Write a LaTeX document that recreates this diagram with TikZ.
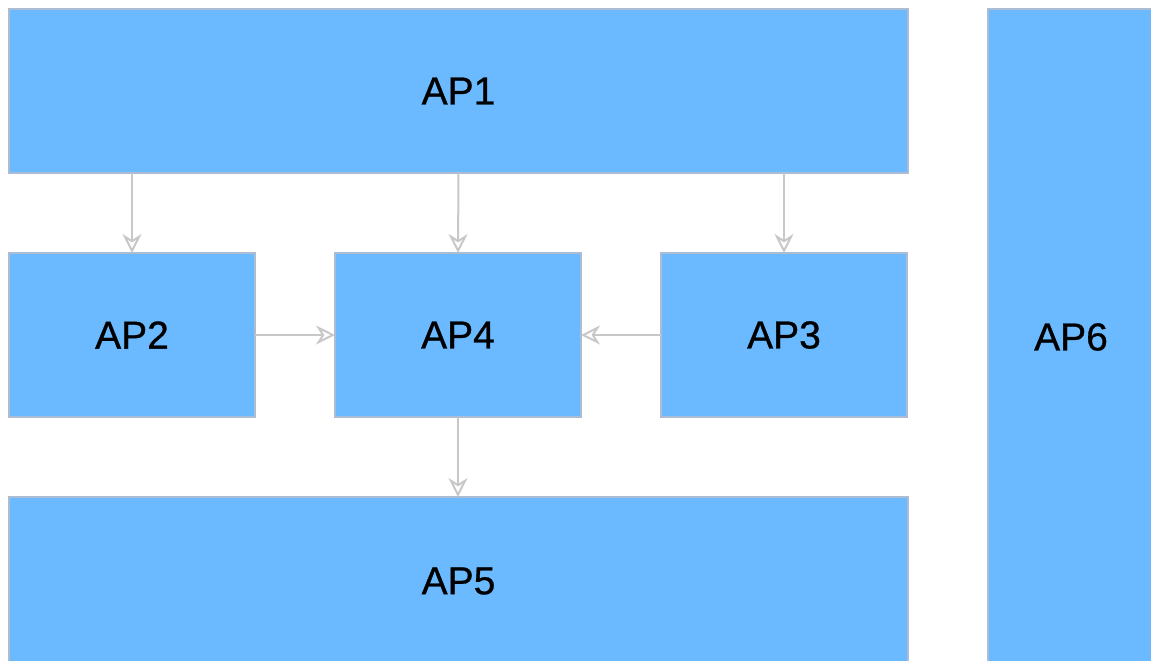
\documentclass[tikz,border=0pt]{standalone}
\usepackage{fontspec}
\setmainfont{Liberation Sans}
\newfontfamily\apfont{Liberation Sans}[FakeBold=0.7]
\usepackage{xcolor}
\usepackage{tikz}
\usetikzlibrary{arrows.meta, positioning}

\definecolor{apblue}{RGB}{107,185,255}
\definecolor{apedge}{RGB}{172,188,210}
\definecolor{aparrow}{RGB}{200,200,200}

\begin{document}
\begin{tikzpicture}[
    x=0.5pt, y=-0.5pt,
    node distance=40pt and 40pt,
    box/.style={rectangle, draw=apedge, line width=0.8pt, fill=apblue, minimum width=123pt, minimum height=82pt, inner sep=0pt, outer sep=0pt, align=center, font=\apfont\fontsize{19.5}{22}\selectfont},
    arrow/.style={-{Stealth[open, fill=white, length=9.5pt, width=9.5pt, inset=3pt]}, draw=aparrow, line width=1pt}
]
    \useasboundingbox (0,0) rectangle (1151,660);
    \clip (0,0) rectangle (1151,660);

    % Row 1: top block
    \node[box, minimum width=449.5pt, anchor=north west] (ap1) at (9,9) {AP1};

    % Row 2: middle blocks
    \node[box, below=40pt of ap1.south west, anchor=north west] (ap2) {AP2};
    \node[box, right=of ap2] (ap4) {AP4};
    \node[box, right=of ap4] (ap3) {AP3};

    % Row 3: bottom block (runs off the page)
    \node[box, minimum width=449.5pt, minimum height=84pt, below=40pt of ap2.south west, anchor=north west] (ap5) {AP5};

    % Side column (runs off the page)
    \node[box, minimum width=83pt, minimum height=328pt, right=40pt of ap1.north east, anchor=north west] (ap6) {AP6};

    % AP1 -> row 2
    \draw[arrow] (ap2.north |- ap1.south) -- (ap2.north);
    \draw[arrow] (ap1.south) -- (ap4.north);
    \draw[arrow] (ap3.north |- ap1.south) -- (ap3.north);

    % Row 2 -> AP4
    \draw[arrow] (ap2) -- (ap4);
    \draw[arrow] (ap3) -- (ap4);

    % AP4 -> AP5
    \draw[arrow] (ap4.south) -- (ap5.north -| ap4.south);
\end{tikzpicture}
\end{document}
